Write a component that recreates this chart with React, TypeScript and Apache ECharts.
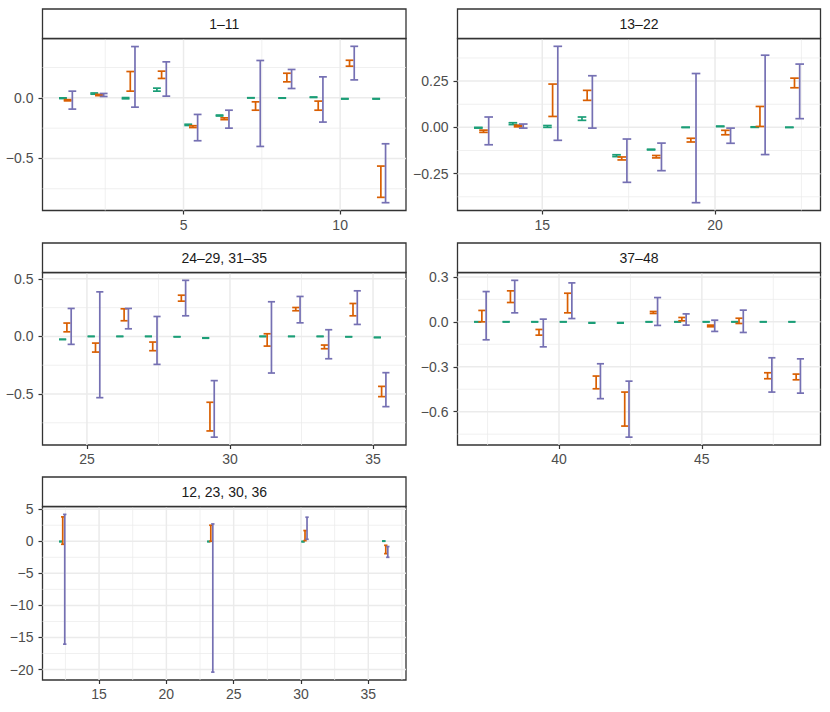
import React, { useEffect, useRef } from "react";
import * as echarts from "echarts";

// ---------- data ----------
const COLORS = ["#1B9E77", "#D95F02", "#7570B3"];
const OFFSETS = [0.15, 0.3, 0.45];
const CAP = 0.25;

// Panel 1: 1–11
const p1Title = "1–11";
const p1X = [1, 2, 3, 4, 5, 6, 7, 8, 9, 10, 11];
const p1Green = [[-0.006, 0.0], [0.03, 0.04], [-0.008, 0.002], [0.055, 0.08], [-0.228, -0.218], [-0.15, -0.142], [-0.001, 0.001], [-0.003, 0.0], [0.003, 0.007], [-0.01, -0.006], [-0.01, -0.006]];
const p1Orange = [[-0.025, -0.015], [0.018, 0.028], [0.055, 0.217], [0.16, 0.22], [-0.245, -0.23], [-0.18, -0.165], [-0.102, -0.033], [0.132, 0.203], [-0.102, -0.027], [0.261, 0.31], [-0.821, -0.563]];
const p1Purple = [[-0.093, 0.055], [0.011, 0.036], [-0.077, 0.423], [0.014, 0.297], [-0.354, -0.137], [-0.25, -0.102], [-0.401, 0.308], [0.077, 0.234], [-0.2, 0.173], [0.148, 0.425], [-0.865, -0.379]];
const p1XTicks = [5, 10];
const p1XLabels = ["5", "10"];
const p1XMinor = [2.5, 7.5];
const p1YTicks = [-0.5, 0];
const p1YLabels = ["−0.5", "0.0"];
const p1YMinor = [-0.75, -0.25, 0.25];

// Panel 2: 13–22
const p2Title = "13–22";
const p2X = [13, 14, 15, 16, 17, 18, 19, 20, 21, 22];
const p2Green = [[-0.004, 0.0], [0.015, 0.025], [0.0, 0.01], [0.038, 0.056], [-0.158, -0.148], [-0.122, -0.118], [-0.001, 0.001], [0.004, 0.007], [0.0, 0.003], [-0.001, 0.001]];
const p2Orange = [[-0.027, -0.015], [0.003, 0.012], [0.059, 0.234], [0.146, 0.2], [-0.176, -0.16], [-0.165, -0.152], [-0.079, -0.059], [-0.04, -0.016], [0.005, 0.113], [0.214, 0.266]];
const p2Purple = [[-0.094, 0.056], [-0.004, 0.018], [-0.07, 0.438], [-0.004, 0.279], [-0.297, -0.063], [-0.234, -0.085], [-0.407, 0.291], [-0.086, -0.004], [-0.147, 0.39], [0.047, 0.342]];
const p2XTicks = [15, 20];
const p2XLabels = ["15", "20"];
const p2XMinor = [17.5, 22.5];
const p2YTicks = [-0.25, 0, 0.25];
const p2YLabels = ["−0.25", "0.00", "0.25"];
const p2YMinor = [-0.375, -0.125, 0.125, 0.375];

// Panel 3: 24–29, 31–35
const p3Title = "24–29, 31–35";
const p3X = [24, 25, 26, 27, 28, 29, 31, 32, 33, 34, 35];
const p3Green = [[-0.028, -0.024], [-0.001, 0.001], [-0.001, 0.001], [-0.001, 0.001], [-0.004, -0.002], [-0.016, -0.012], [-0.002, 0.002], [-0.001, 0.001], [-0.001, 0.001], [-0.004, -0.002], [-0.011, -0.007]];
const p3Orange = [[0.04, 0.116], [-0.136, -0.058], [0.136, 0.24], [-0.124, -0.049], [0.306, 0.358], [-0.821, -0.572], [-0.084, 0.023], [0.223, 0.251], [-0.107, -0.075], [0.179, 0.286], [-0.523, -0.434]];
const p3Purple = [[-0.069, 0.243], [-0.532, 0.387], [0.066, 0.243], [-0.243, 0.173], [0.179, 0.487], [-0.875, -0.384], [-0.318, 0.301], [0.118, 0.347], [-0.194, 0.058], [0.104, 0.396], [-0.61, -0.315]];
const p3XTicks = [25, 30, 35];
const p3XLabels = ["25", "30", "35"];
const p3XMinor = [27.5, 32.5];
const p3YTicks = [-0.5, 0, 0.5];
const p3YLabels = ["−0.5", "0.0", "0.5"];
const p3YMinor = [-0.75, -0.25, 0.25];

// Panel 4: 37–48
const p4Title = "37–48";
const p4X = [37, 38, 39, 40, 41, 42, 43, 44, 45, 46, 47, 48];
const p4Green = [[-0.001, 0.001], [-0.001, 0.001], [-0.001, 0.001], [-0.001, 0.001], [-0.009, -0.005], [-0.009, -0.005], [-0.001, 0.001], [-0.001, 0.001], [-0.001, 0.001], [-0.001, 0.001], [-0.001, 0.001], [-0.001, 0.001]];
const p4Orange = [[0.0, 0.076], [0.129, 0.207], [-0.089, -0.051], [0.06, 0.191], [-0.447, -0.362], [-0.696, -0.469], [0.056, 0.069], [0.007, 0.029], [-0.033, -0.022], [-0.011, 0.024], [-0.38, -0.34], [-0.387, -0.349]];
const p4Purple = [[-0.12, 0.202], [0.06, 0.277], [-0.167, 0.018], [0.022, 0.26], [-0.513, -0.28], [-0.77, -0.396], [-0.024, 0.162], [-0.022, 0.053], [-0.064, 0.011], [-0.071, 0.078], [-0.469, -0.24], [-0.476, -0.247]];
const p4XTicks = [40, 45];
const p4XLabels = ["40", "45"];
const p4XMinor = [37.5, 42.5, 47.5];
const p4YTicks = [-0.6, -0.3, 0, 0.3];
const p4YLabels = ["−0.6", "−0.3", "0.0", "0.3"];
const p4YMinor = [-0.75, -0.45, -0.15, 0.15];

// Panel 5: 12, 23, 30, 36
const p5Title = "12, 23, 30, 36";
const p5X = [12, 23, 30, 36];
const p5Green = [[-0.08, 0.0], [-0.08, 0.0], [-0.1, 0.0], [0.0, 0.05]];
const p5Orange = [[-0.47, 3.8], [0.0, 2.5], [0.1, 1.67], [-1.93, -0.63]];
const p5Purple = [[-16.04, 4.19], [-20.4, 2.7], [0.31, 3.75], [-2.5, -0.83]];
const p5XTicks = [15, 20, 25, 30, 35];
const p5XLabels = ["15", "20", "25", "30", "35"];
const p5XMinor = [12.5, 17.5, 22.5, 27.5, 32.5, 37.5];
const p5YTicks = [-20, -15, -10, -5, 0, 5];
const p5YLabels = ["−20", "−15", "−10", "−5", "0", "5"];
const p5YMinor = [-17.5, -12.5, -7.5, -2.5, 2.5];

const panels = [
  { title: p1Title, x: p1X, series: [p1Green, p1Orange, p1Purple], xTicks: p1XTicks, xLabels: p1XLabels, xMinor: p1XMinor, yTicks: p1YTicks, yLabels: p1YLabels, yMinor: p1YMinor },
  { title: p2Title, x: p2X, series: [p2Green, p2Orange, p2Purple], xTicks: p2XTicks, xLabels: p2XLabels, xMinor: p2XMinor, yTicks: p2YTicks, yLabels: p2YLabels, yMinor: p2YMinor },
  { title: p3Title, x: p3X, series: [p3Green, p3Orange, p3Purple], xTicks: p3XTicks, xLabels: p3XLabels, xMinor: p3XMinor, yTicks: p3YTicks, yLabels: p3YLabels, yMinor: p3YMinor },
  { title: p4Title, x: p4X, series: [p4Green, p4Orange, p4Purple], xTicks: p4XTicks, xLabels: p4XLabels, xMinor: p4XMinor, yTicks: p4YTicks, yLabels: p4YLabels, yMinor: p4YMinor },
  { title: p5Title, x: p5X, series: [p5Green, p5Orange, p5Purple], xTicks: p5XTicks, xLabels: p5XLabels, xMinor: p5XMinor, yTicks: p5YTicks, yLabels: p5YLabels, yMinor: p5YMinor },
];

// ---------- layout ----------
const LAYOUT = [
  { left: 42.5, top: 38.5, width: 363.5, height: 172 },
  { left: 457.5, top: 38.5, width: 363, height: 172 },
  { left: 42.5, top: 272.5, width: 363.5, height: 172.5 },
  { left: 457.5, top: 272.5, width: 363, height: 172.5 },
  { left: 42.5, top: 506.5, width: 363.5, height: 173.5 },
];
const STRIP_H = 29.5;
const FONT = "'Liberation Sans', Arial, Helvetica, sans-serif";
const BORDER = "#333333";

function labelFor(ticks: number[], labels: string[]) {
  return (v: number) => {
    const i = ticks.findIndex((t) => Math.abs(t - v) < 1e-9);
    return i >= 0 ? labels[i] : "";
  };
}

function buildOption() {
  const grid: any[] = [];
  const xAxis: any[] = [];
  const yAxis: any[] = [];
  const series: any[] = [];
  const graphic: any[] = [];

  panels.forEach((p, i) => {
    const L = LAYOUT[i];
    const xLo = Math.min(...p.x) + OFFSETS[0] - CAP / 2;
    const xHi = Math.max(...p.x) + OFFSETS[2] + CAP / 2;
    const xPad = (xHi - xLo) * 0.05;
    const xmin = xLo - xPad, xmax = xHi + xPad;
    const all: number[] = [];
    p.series.forEach((s) => s.forEach((d) => all.push(d[0], d[1])));
    const yLo = Math.min(...all), yHi = Math.max(...all);
    const yPad = (yHi - yLo) * 0.05;
    const ymin = yLo - yPad, ymax = yHi + yPad;

    grid.push({ left: L.left, top: L.top, width: L.width, height: L.height, show: true, backgroundColor: "#FFFFFF", borderColor: BORDER, borderWidth: 1.3, containLabel: false });

    xAxis.push({
      type: "value", gridIndex: i, min: xmin, max: xmax,
      axisLine: { show: false, onZero: false },
      splitLine: { show: false },
      axisTick: { show: true, length: 4, lineStyle: { color: BORDER, width: 1.2 }, customValues: p.xTicks },
      axisLabel: { customValues: p.xTicks, formatter: labelFor(p.xTicks, p.xLabels), color: "#4D4D4D", fontSize: 14, fontFamily: FONT, margin: 7 },
    });
    yAxis.push({
      type: "value", gridIndex: i, min: ymin, max: ymax,
      axisLine: { show: false, onZero: false },
      splitLine: { show: false },
      axisTick: { show: true, length: 4, lineStyle: { color: BORDER, width: 1.2 }, customValues: p.yTicks },
      axisLabel: { customValues: p.yTicks, formatter: labelFor(p.yTicks, p.yLabels), color: "#4D4D4D", fontSize: 14, fontFamily: FONT, margin: 9 },
    });

    const gl: number[][] = [];
    p.xMinor.forEach((v) => gl.push([v, ymin, 1]));
    p.yMinor.forEach((v) => gl.push([xmin, v, 3]));
    p.xTicks.forEach((v) => gl.push([v, ymin, 0]));
    p.yTicks.forEach((v) => gl.push([xmin, v, 2]));
    series.push({
      type: "custom", xAxisIndex: i, yAxisIndex: i, silent: true, z: 1,
      data: gl,
      renderItem: (params: any, api: any) => {
        const kind = api.value(2);
        const cs = params.coordSys;
        const pt = api.coord([api.value(0), api.value(1)]);
        const lw = kind === 0 || kind === 2 ? 1.5 : 0.75;
        if (kind < 2) {
          return { type: "line", shape: { x1: pt[0], y1: cs.y, x2: pt[0], y2: cs.y + cs.height }, style: { stroke: "#EBEBEB", lineWidth: lw } };
        }
        return { type: "line", shape: { x1: cs.x, y1: pt[1], x2: cs.x + cs.width, y2: pt[1] }, style: { stroke: "#EBEBEB", lineWidth: lw } };
      },
    });

    p.series.forEach((s, k) => {
      const data = s.map((d, j) => [p.x[j] + OFFSETS[k], d[0], d[1]]);
      const color = COLORS[k];
      series.push({
        type: "custom", xAxisIndex: i, yAxisIndex: i, z: 3 + k, silent: true,
        encode: { x: 0, y: [1, 2] },
        data,
        renderItem: (params: any, api: any) => {
          const x = api.value(0), lo = api.value(1), hi = api.value(2);
          const a = api.coord([x, lo]);
          const b = api.coord([x, hi]);
          const l = api.coord([x - CAP / 2, lo]);
          const r = api.coord([x + CAP / 2, lo]);
          const style = { stroke: color, lineWidth: 1.7 };
          return {
            type: "group",
            children: [
              { type: "line", shape: { x1: a[0], y1: a[1], x2: b[0], y2: b[1] }, style },
              { type: "line", shape: { x1: l[0], y1: a[1], x2: r[0], y2: a[1] }, style },
              { type: "line", shape: { x1: l[0], y1: b[1], x2: r[0], y2: b[1] }, style },
            ],
          };
        },
      });
    });

    graphic.push({
      type: "rect", silent: true, z: 10,
      shape: { x: L.left, y: L.top - STRIP_H, width: L.width, height: STRIP_H },
      style: { fill: "#FFFFFF", stroke: BORDER, lineWidth: 1.3 },
    });
    graphic.push({
      type: "text", silent: true, z: 11,
      x: L.left + L.width / 2, y: L.top - STRIP_H / 2,
      style: { text: p.title, fontSize: 14, fontFamily: FONT, fill: "#1A1A1A", align: "center", verticalAlign: "middle", textAlign: "center", textVerticalAlign: "middle" },
    });
  });

  return { animation: false, backgroundColor: "#FFFFFF", grid, xAxis, yAxis, series, graphic };
}

export default function App() {
  const ref = useRef<HTMLDivElement>(null);
  useEffect(() => {
    document.body.style.margin = "0";
    if (!ref.current) return;
    const chart = echarts.init(ref.current, undefined, { renderer: "svg" });
    chart.setOption(buildOption() as any);
    return () => chart.dispose();
  }, []);
  return <div ref={ref} style={{ width: 830, height: 712 }} />;
}
